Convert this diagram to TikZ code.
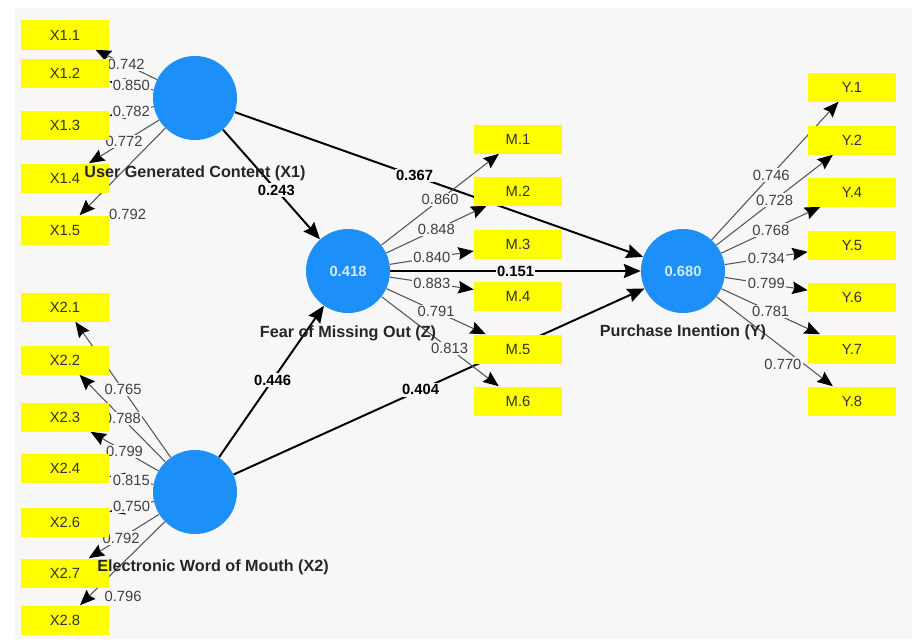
\documentclass[tikz,border=0pt]{standalone}
\usepackage{fontspec}
\setmainfont{Liberation Sans}
\usetikzlibrary{arrows.meta}
\definecolor{plsblue}{RGB}{28,144,248}
\definecolor{plsyellow}{RGB}{255,255,0}
\definecolor{canvas}{RGB}{247,247,247}
\definecolor{loadgray}{RGB}{85,85,85}
\pgfdeclarelayer{bg}
\pgfdeclarelayer{edges}
\pgfsetlayers{bg,edges,main}
\tikzstyle{latent} = [circle, fill=plsblue, minimum size=2.1cm, inner sep=0pt, text=white!80!plsblue, font=\fontsize{10.5}{12}\selectfont\bfseries]
\tikzstyle{indicator} = [rectangle, fill=plsyellow, minimum width=2.2cm, minimum height=0.725cm, inner sep=0pt, text=black!80, font=\fontsize{10.5}{12}\selectfont]
\tikzstyle{latname} = [font=\fontsize{11.5}{13}\selectfont\bfseries, text=black!85]
\tikzstyle{loading} = [->, >={Stealth[length=11pt,width=9pt,inset=1.5pt,color=black]}, draw=loadgray, line width=0.75pt]
\tikzstyle{structural} = [->, >={Stealth[length=12pt,width=10pt,inset=1.5pt]}, draw=black, line width=1.4pt]
\tikzstyle{lval} = [fill=canvas, inner sep=1pt, text=black!75, font=\fontsize{10.5}{12}\selectfont]
\tikzstyle{pval} = [fill=canvas, inner sep=1pt, text=black, font=\fontsize{10.5}{12}\selectfont\bfseries]

\begin{document}
\begin{tikzpicture}[x=0.025cm, y=-0.025cm]

\useasboundingbox (0,0) rectangle (912,639);
\begin{pgfonlayer}{bg}
\fill [white] (0,0) rectangle (912,639);
\fill [canvas] (15,8) rectangle (912,639);
\end{pgfonlayer}

%% NODES

\node (x1) [latent] at (195,98) {};
\node (x2) [latent] at (195,492) {};
\node (z) [latent] at (348,271) {0.418};
\node (y) [latent] at (683,271) {0.680};

\node (x1_1) [indicator] at (65,35) {X1.1};
\node (x1_2) [indicator] at (65,73) {X1.2};
\node (x1_3) [indicator] at (65,125) {X1.3};
\node (x1_4) [indicator] at (65,178) {X1.4};
\node (x1_5) [indicator] at (65,230) {X1.5};

\node (x2_1) [indicator] at (65,307) {X2.1};
\node (x2_2) [indicator] at (65,360) {X2.2};
\node (x2_3) [indicator] at (65,417) {X2.3};
\node (x2_4) [indicator] at (65,468) {X2.4};
\node (x2_6) [indicator] at (65,522) {X2.6};
\node (x2_7) [indicator] at (65,573) {X2.7};
\node (x2_8) [indicator] at (65,620) {X2.8};

\node (m_1) [indicator] at (518,139) {M.1};
\node (m_2) [indicator] at (518,191) {M.2};
\node (m_3) [indicator] at (518,244) {M.3};
\node (m_4) [indicator] at (518,296) {M.4};
\node (m_5) [indicator] at (518,349) {M.5};
\node (m_6) [indicator] at (518,401) {M.6};

\node (y_1) [indicator] at (852,87) {Y.1};
\node (y_2) [indicator] at (852,140) {Y.2};
\node (y_4) [indicator] at (852,192) {Y.4};
\node (y_5) [indicator] at (852,245) {Y.5};
\node (y_6) [indicator] at (852,297) {Y.6};
\node (y_7) [indicator] at (852,349) {Y.7};
\node (y_8) [indicator] at (852,401) {Y.8};

\node (x1_label) [latname, below of=x1, node distance=1.875cm] {User Generated Content (X1)};
\node (x2_label) [latname, below of=x2, node distance=1.875cm, xshift=0.45cm] {Electronic Word of Mouth (X2)};
\node (z_label) [latname, below of=z, node distance=1.55cm] {Fear of Missing Out (Z)};
\node (y_label) [latname, below of=y, node distance=1.525cm] {Purchase Inention (Y)};

%% ARROWS

\begin{pgfonlayer}{edges}
\draw [structural] (x1) -- (z) node [pval, pos=0.55] {0.243};
\draw [structural] (x1) -- (y) node [pval, pos=0.44] {0.367};
\draw [structural] (x2) -- (z) node [pval, pos=0.51] {0.446};
\draw [structural] (x2) -- (y) node [pval, pos=0.455] {0.404};
\draw [structural] (z) -- (y) node [pval, midway] {0.151};

\draw [loading] (x1) -- (x1_1) node [lval, midway] {0.742};
\draw [loading] (x1) -- (x1_2) node [lval, midway] {0.850};
\draw [loading] (x1) -- (x1_3) node [lval, midway] {0.782};
\draw [loading] (x1) -- (x1_4) node [lval, midway] {0.772};
\draw [loading] (x1) -- (x1_5) node [lval, pos=0.72, xshift=0.6cm, yshift=-0.6cm] {0.792};

\draw [loading] (x2) -- (x2_1) node [lval, midway] {0.765};
\draw [loading] (x2) -- (x2_2) node [lval, midway] {0.788};
\draw [loading] (x2) -- (x2_3) node [lval, midway] {0.799};
\draw [loading] (x2) -- (x2_4) node [lval, midway] {0.815};
\draw [loading] (x2) -- (x2_6) node [lval, midway] {0.750};
\draw [loading] (x2) -- (x2_7) node [lval, pos=0.54] {0.792};
\draw [loading] (x2) -- (x2_8) node [lval, pos=0.69, xshift=0.42cm, yshift=-0.42cm] {0.796};

\draw [loading] (z) -- (m_1) node [lval, midway] {0.860};
\draw [loading] (z) -- (m_2) node [lval, midway] {0.848};
\draw [loading] (z) -- (m_3) node [lval, midway] {0.840};
\draw [loading] (z) -- (m_4) node [lval, midway] {0.883};
\draw [loading] (z) -- (m_5) node [lval, midway] {0.791};
\draw [loading] (z) -- (m_6) node [lval, pos=0.58] {0.813};

\draw [loading] (y) -- (y_1) node [lval, pos=0.47] {0.746};
\draw [loading] (y) -- (y_2) node [lval, midway] {0.728};
\draw [loading] (y) -- (y_4) node [lval, midway] {0.768};
\draw [loading] (y) -- (y_5) node [lval, midway] {0.734};
\draw [loading] (y) -- (y_6) node [lval, midway] {0.799};
\draw [loading] (y) -- (y_7) node [lval, midway] {0.781};
\draw [loading] (y) -- (y_8) node [lval, pos=0.64, xshift=-0.2cm, yshift=-0.25cm] {0.770};
\end{pgfonlayer}

\end{tikzpicture}
\end{document}
